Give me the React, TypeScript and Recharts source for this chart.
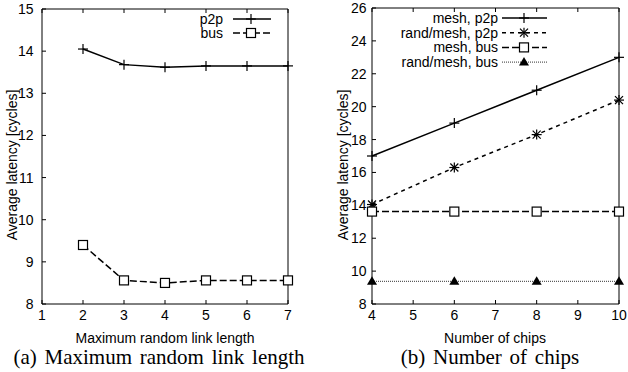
import React from "react";
import { Legend, Line, LineChart, XAxis, YAxis } from "recharts";

// (a) latency vs. maximum random link length
const linkLengths = [2, 3, 4, 5, 6, 7];
const linkP2p = [14.05, 13.68, 13.62, 13.65, 13.65, 13.65];
const linkBus = [9.4, 8.56, 8.5, 8.56, 8.56, 8.56];
const linkTicksX = [1, 2, 3, 4, 5, 6, 7];
const linkTicksY = [8, 9, 10, 11, 12, 13, 14, 15];

// (b) latency vs. number of chips
const chipCounts = [4, 6, 8, 10];
const meshP2p = [17, 19, 21, 23];
const randMeshP2p = [14.05, 16.3, 18.3, 20.4];
const meshBus = [13.62, 13.62, 13.62, 13.62];
const randMeshBus = [9.38, 9.38, 9.38, 9.38];
const chipTicksX = [4, 5, 6, 7, 8, 9, 10];
const chipTicksY = [8, 10, 12, 14, 16, 18, 20, 22, 24, 26];

const FONT = "'Liberation Sans', Arial, Helvetica, sans-serif";
const SERIF = "'Liberation Serif', 'Times New Roman', Times, serif";

type MarkerKind = "plus" | "star" | "square" | "triangle";

interface SeriesDef {
  key: string;
  name: string;
  dash?: string;
  width: number;
  color: string;
  marker: MarkerKind;
}

const linkSeries: SeriesDef[] = [
  { key: "p2p", name: "p2p", width: 1.5, color: "#000", marker: "plus" },
  { key: "bus", name: "bus", dash: "7 3", width: 1.5, color: "#000", marker: "square" },
];

const chipSeries: SeriesDef[] = [
  { key: "meshP2p", name: "mesh, p2p", width: 1.5, color: "#000", marker: "plus" },
  { key: "randP2p", name: "rand/mesh, p2p", dash: "4 4", width: 1.5, color: "#000", marker: "star" },
  { key: "meshBus", name: "mesh, bus", dash: "7 3", width: 1.5, color: "#000", marker: "square" },
  { key: "randBus", name: "rand/mesh, bus", dash: "1 1", width: 1, color: "#333", marker: "triangle" },
];

const linkData = linkLengths.map((x, i) => ({ x, p2p: linkP2p[i], bus: linkBus[i] }));
const chipData = chipCounts.map((x, i) => ({
  x,
  meshP2p: meshP2p[i],
  randP2p: randMeshP2p[i],
  meshBus: meshBus[i],
  randBus: randMeshBus[i],
}));

function Marker({ kind, cx, cy }: { kind: MarkerKind; cx: number; cy: number }) {
  if (cx == null || cy == null) return <g />;
  if (kind === "plus") {
    return (
      <g stroke="#000" strokeWidth={1.2}>
        <line x1={cx - 5} x2={cx + 5} y1={cy} y2={cy} />
        <line x1={cx} x2={cx} y1={cy - 5} y2={cy + 5} />
      </g>
    );
  }
  if (kind === "star") {
    return (
      <g stroke="#000" strokeWidth={1.2}>
        <line x1={cx - 5} x2={cx + 5} y1={cy} y2={cy} />
        <line x1={cx} x2={cx} y1={cy - 5} y2={cy + 5} />
        <line x1={cx - 4} x2={cx + 4} y1={cy - 4} y2={cy + 4} />
        <line x1={cx - 4} x2={cx + 4} y1={cy + 4} y2={cy - 4} />
      </g>
    );
  }
  if (kind === "square") {
    return <rect x={cx - 4.5} y={cy - 4.5} width={9} height={9} fill="#fff" stroke="#000" strokeWidth={1.2} />;
  }
  return <polygon points={`${cx},${cy - 5} ${cx - 5},${cy + 3.5} ${cx + 5},${cy + 3.5}`} fill="#000" />;
}

const noTick = () => <g />;

interface LegendGeom {
  textX: number;
  lineX1: number;
  lineX2: number;
  markX: number;
  rowY: number;
  rowGap: number;
  width: number;
}

// keeps the series order (recharts sorts the payload by name)
function makeLegend(series: SeriesDef[], g: LegendGeom) {
  return function LegendContent(props: any) {
    const payload = props.payload || [];
    const rows = series.filter((s) => payload.some((e: any) => e.dataKey === s.key));
    return (
      <svg width={g.width} height={g.rowY + g.rowGap * rows.length} style={{ display: "block", overflow: "visible" }}>
        {rows.map((s, i) => {
          const y = g.rowY + i * g.rowGap;
          return (
            <g key={s.key}>
              <text x={g.textX} y={y + 5} textAnchor="end" fontSize={14} fontFamily={FONT} fill="#000">
                {s.name}
              </text>
              <line x1={g.lineX1} x2={g.lineX2} y1={y} y2={y} stroke={s.color} strokeWidth={s.width} strokeDasharray={s.dash} />
              <Marker kind={s.marker} cx={g.markX} cy={y} />
            </g>
          );
        })}
      </svg>
    );
  };
}

const tickStyle = { fill: "#000", fontSize: 14, fontFamily: FONT };

function Panel(props: {
  data: any[];
  series: SeriesDef[];
  width: number;
  yAxisWidth: number;
  marginTop: number;
  marginRight: number;
  xDomain: [number, number];
  yDomain: [number, number];
  xTicks: number[];
  yTicks: number[];
  yTickMargin: number;
  legend: LegendGeom;
}) {
  const p = props;
  return (
    <LineChart
      width={p.width}
      height={330}
      data={p.data}
      margin={{ top: p.marginTop, right: p.marginRight, bottom: 0, left: 0 }}
    >
      <XAxis
        dataKey="x"
        type="number"
        domain={p.xDomain}
        ticks={p.xTicks}
        interval={0}
        height={26}
        tickSize={-4}
        tickMargin={10}
        stroke="#000"
        tick={tickStyle}
      />
      <XAxis
        xAxisId="top"
        orientation="top"
        dataKey="x"
        type="number"
        domain={p.xDomain}
        ticks={p.xTicks}
        interval={0}
        height={1}
        tickSize={-4}
        stroke="#000"
        tick={noTick}
      />
      <YAxis
        type="number"
        domain={p.yDomain}
        ticks={p.yTicks}
        interval={0}
        width={p.yAxisWidth}
        tickSize={-4}
        tickMargin={p.yTickMargin}
        stroke="#000"
        tick={tickStyle}
      />
      <YAxis
        yAxisId="right"
        orientation="right"
        type="number"
        domain={p.yDomain}
        ticks={p.yTicks}
        interval={0}
        width={1}
        tickSize={-4}
        stroke="#000"
        tick={noTick}
      />
      {p.series.map((s) => (
        <Line
          key={s.key}
          dataKey={s.key}
          name={s.name}
          type="linear"
          stroke={s.color}
          strokeWidth={s.width}
          strokeDasharray={s.dash}
          isAnimationActive={false}
          dot={(d: any) => <Marker key={`${s.key}-${d.index}`} kind={s.marker} cx={d.cx} cy={d.cy} />}
          activeDot={false}
        />
      ))}
      <Legend
        layout="vertical"
        align="center"
        verticalAlign="middle"
        wrapperStyle={{ position: "absolute", left: 0, top: 0, width: p.width, margin: 0 }}
        content={makeLegend(p.series, p.legend)}
      />
    </LineChart>
  );
}

export default function App() {
  return (
    <div
      style={{
        position: "absolute",
        left: 0,
        top: 0,
        width: 628,
        height: 372,
        background: "#fff",
        fontFamily: FONT,
        overflow: "hidden",
      }}
    >
      <div style={{ position: "absolute", left: 0, top: 0 }}>
        <Panel
          data={linkData}
          series={linkSeries}
          width={310}
          yAxisWidth={42}
          marginTop={8}
          marginRight={21}
          xDomain={[1, 7]}
          yDomain={[8, 15]}
          xTicks={linkTicksX}
          yTicks={linkTicksY}
          yTickMargin={12.5}
          legend={{ textX: 223, lineX1: 233, lineX2: 271, markX: 251, rowY: 19, rowGap: 14, width: 310 }}
        />
      </div>
      <div style={{ position: "absolute", left: 310, top: 0 }}>
        <Panel
          data={chipData}
          series={chipSeries}
          width={318}
          yAxisWidth={62}
          marginTop={7}
          marginRight={8}
          xDomain={[4, 10]}
          yDomain={[8, 26]}
          xTicks={chipTicksX}
          yTicks={chipTicksY}
          yTickMargin={9.5}
          legend={{ textX: 188, lineX1: 192, lineX2: 237, markX: 214, rowY: 18, rowGap: 14.7, width: 318 }}
        />
      </div>
      <svg
        width={628}
        height={372}
        style={{ position: "absolute", left: 0, top: 0, pointerEvents: "none" }}
      >
        <text x={12} y={165} transform="rotate(-90 12 165)" textAnchor="middle" dominantBaseline="central" fontSize={14} fontFamily={FONT}>
          Average latency [cycles]
        </text>
        <text x={343} y={165} transform="rotate(-90 343 165)" textAnchor="middle" dominantBaseline="central" fontSize={14} fontFamily={FONT}>
          Average latency [cycles]
        </text>
        <text x={165} y={343} textAnchor="middle" fontSize={14} fontFamily={FONT}>
          Maximum random link length
        </text>
        <text x={495} y={343} textAnchor="middle" fontSize={14} fontFamily={FONT}>
          Number of chips
        </text>
        <text x={159} y={364} textAnchor="middle" fontSize={21} fontFamily={SERIF} wordSpacing={2.5}>
          (a) Maximum random link length
        </text>
        <text x={490} y={364} textAnchor="middle" fontSize={21} fontFamily={SERIF} wordSpacing={2.5}>
          (b) Number of chips
        </text>
      </svg>
    </div>
  );
}
